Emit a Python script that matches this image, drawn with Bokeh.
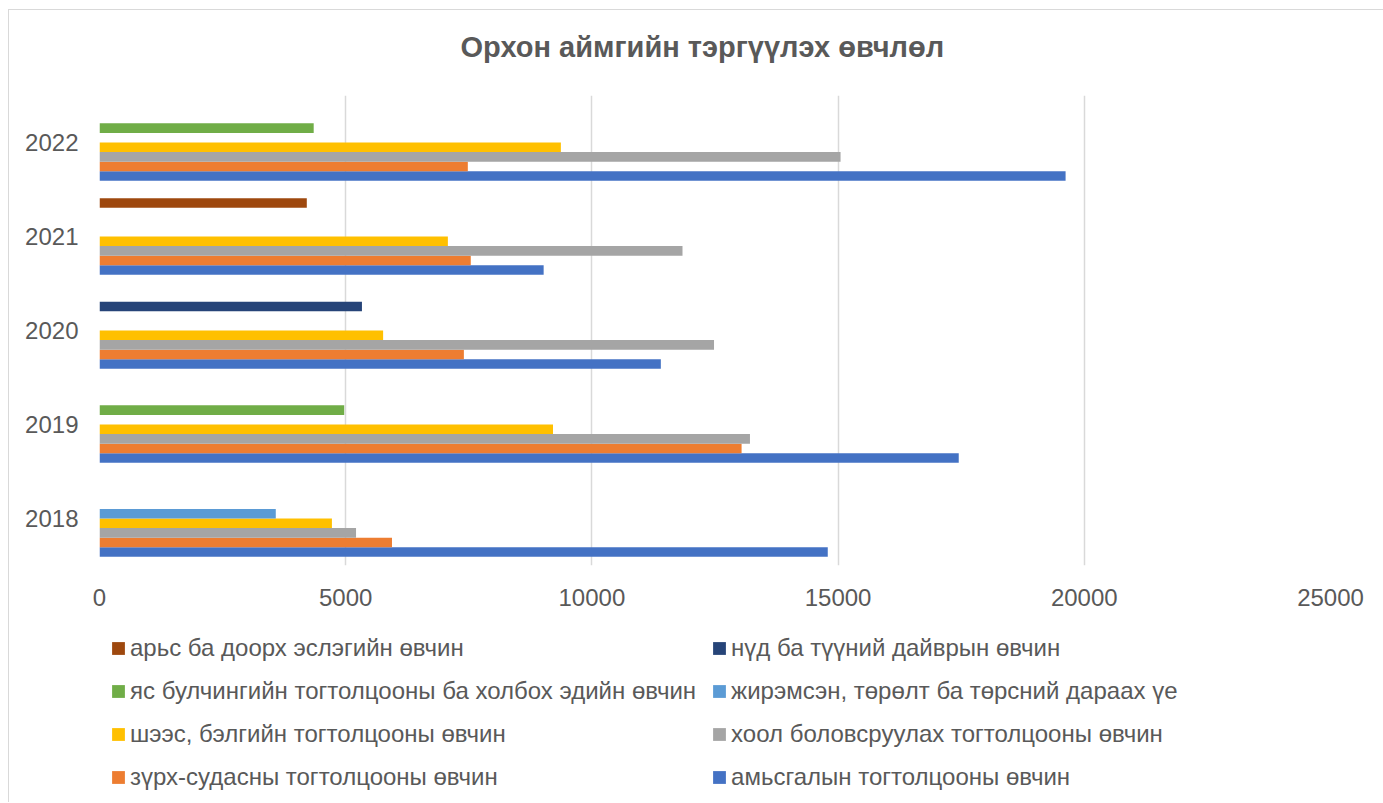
from bokeh.plotting import figure
from bokeh.models import FactorRange, ColumnDataSource, Legend, LegendItem, FixedTicker, Range1d, Label
from bokeh.layouts import column
from bokeh.transform import dodge
from bokeh.embed import file_html
from bokeh.resources import INLINE

years = ["2018", "2019", "2020", "2021", "2022"]

series_names = [
    "амьсгалын тогтолцооны өвчин",
    "зүрх-судасны тогтолцооны өвчин",
    "хоол боловсруулах тогтолцооны өвчин",
    "шээс, бэлгийн тогтолцооны өвчин",
    "жирэмсэн, төрөлт ба төрсний дараах үе",
    "яс булчингийн тогтолцооны ба холбох эдийн өвчин",
    "нүд ба түүний дайврын өвчин",
    "арьс ба доорх эслэгийн өвчин",
]
colors = ["#4472C4", "#ED7D31", "#A5A5A5", "#FFC000", "#5B9BD5", "#70AD47", "#264478", "#9E480E"]

amisgal = [14790, 17450, 11400, 9020, 19620]
zurkh = [5940, 13040, 7400, 7540, 7480]
khool = [5210, 13210, 12480, 11840, 15050]
shees = [4720, 9210, 5760, 7075, 9370]
jiremsen = [3580, 0, 0, 0, 0]
yas = [0, 4970, 0, 0, 4350]
nud = [0, 0, 5330, 0, 0]
ars = [0, 0, 0, 4210, 0]
series_values = [amisgal, zurkh, khool, shees, jiremsen, yas, nud, ars]

x_ticks = [0, 5000, 10000, 15000, 20000, 25000]

title_text = "Орхон аймгийн тэргүүлэх өвчлөл"

TXT = "#595959"
FONT = "Liberation Sans"


def blank(height):
    f = figure(width=1374, height=height, x_range=Range1d(0, 1), y_range=Range1d(0, 1),
               output_backend="svg", toolbar_location=None, x_axis_type=None, y_axis_type=None,
               min_border=0)
    f.outline_line_color = None
    f.xgrid.grid_line_color = None
    f.ygrid.grid_line_color = None
    return f


# title strip
tf = blank(85)
tf.add_layout(Label(x=361, y=48.5, x_units="screen", y_units="screen", text=title_text,
                    text_font=FONT, text_font_size="29px", text_font_style="bold",
                    text_color=TXT, text_align="left", text_baseline="middle"))

# main chart
p = figure(width=1374, height=520, y_range=FactorRange(factors=years), x_range=(0, 25000),
           output_backend="svg", toolbar_location=None,
           min_border_left=90, min_border_right=53, min_border_top=0, min_border_bottom=50)

bar_h = 0.102
n = len(series_names)
for i, (name, vals, c) in enumerate(zip(series_names, series_values, colors)):
    src = ColumnDataSource(dict(year=years, value=vals))
    off = -bar_h * n / 2 + bar_h * (i + 0.5)
    p.hbar(y=dodge("year", off, range=p.y_range), left=0, right="value", height=bar_h,
           source=src, fill_color=c, line_color=None)

p.xaxis.ticker = FixedTicker(ticks=x_ticks)
p.xaxis.formatter.use_scientific = False
for ax in (p.xaxis[0], p.yaxis[0]):
    ax.axis_line_color = None
    ax.major_tick_line_color = None
    ax.minor_tick_line_color = None
    ax.major_label_text_color = TXT
    ax.major_label_text_font = FONT
p.xaxis.major_label_text_font_size = "24px"
p.xaxis.major_label_standoff = 17
p.yaxis.major_label_text_font_size = "24px"
p.yaxis.major_label_standoff = 15

p.xgrid.grid_line_color = "#d9d9d9"
p.xgrid.grid_line_width = 1.5
p.ygrid.grid_line_color = None
p.outline_line_color = None

# legend strip
lf = blank(187)
dummies = []
for name, c in zip(series_names, colors):
    dummies.append(lf.hbar(y=[5], left=[0], right=[0], height=1, fill_color=c, line_color=None))

# column-major fill: left column then right column
order = [7, 5, 3, 1, 6, 4, 2, 0]
items = [LegendItem(label=series_names[k], renderers=[dummies[k]]) for k in order]
legend = Legend(items=items, location=(11, 11), ncols=2,
                label_text_font=FONT, label_text_font_size="24px", label_text_color=TXT,
                glyph_width=16, glyph_height=16, label_height=28, spacing=15, label_standoff=4,
                padding=0, margin=0, border_line_color=None, background_fill_alpha=0)
lf.add_layout(legend, "center")

layout = column(tf, p, lf, spacing=0)
layout.styles = {"margin-left": "8px", "margin-top": "9px",
                 "border-left": "1.5px solid #d9d9d9", "border-top": "1.5px solid #d9d9d9",
                 "border-right": "1.5px solid #d9d9d9"}

open("out.html", "w").write(file_html(layout, INLINE))
